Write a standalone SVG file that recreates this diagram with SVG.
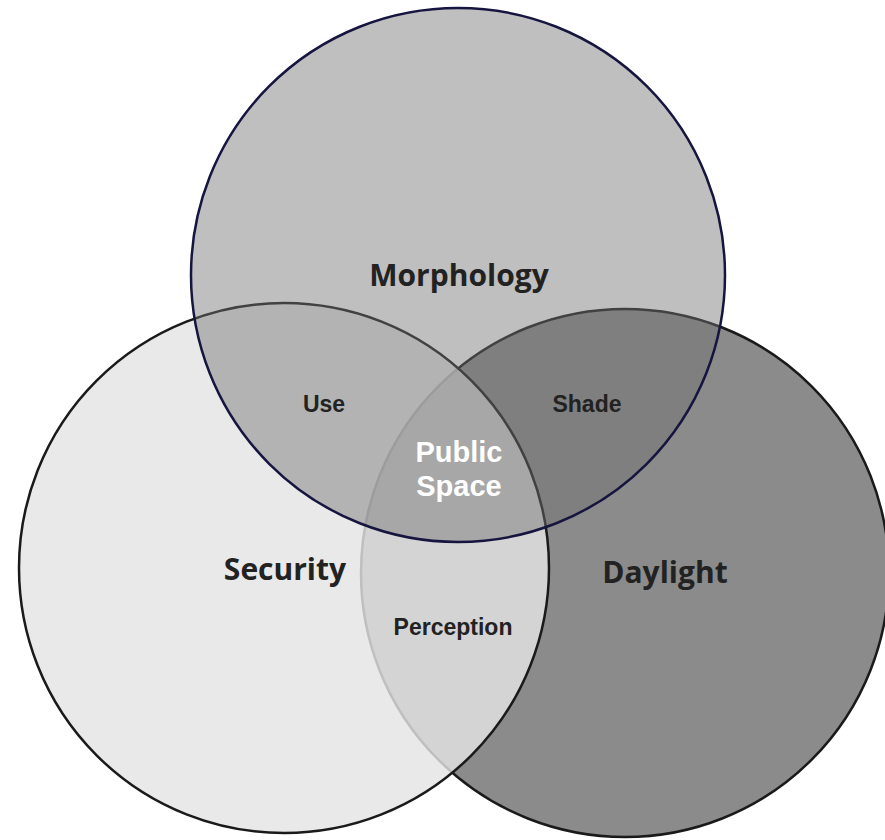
<svg xmlns="http://www.w3.org/2000/svg" width="885" height="840" viewBox="0 0 885 840">
  <style>
    .big { font-family: "Open Sans", "DejaVu Sans", sans-serif; font-weight: 700; font-size: 30px; fill: #222222; text-anchor: middle; }
    .small { font-family: "Liberation Sans", Arial, sans-serif; font-weight: 700; font-size: 23px; fill: #222222; text-anchor: middle; }
    .center { font-family: "Liberation Sans", Arial, sans-serif; font-weight: 700; font-size: 29px; fill: #ffffff; text-anchor: middle; }
  </style>
  <rect x="0" y="0" width="885" height="840" fill="#ffffff"/>
  <g id="daylight">
    <circle cx="625" cy="573" r="264" fill="#8b8b8b" stroke="#1a1a1a" stroke-width="2.5"/>
  </g>
  <g id="security">
    <circle cx="284" cy="568" r="265" fill="#e4e4e4" fill-opacity="0.82" stroke="#1a1a1a" stroke-width="2.5"/>
  </g>
  <g id="morphology">
    <circle cx="458" cy="275" r="267" fill="#707070" fill-opacity="0.45" stroke="#15153f" stroke-width="2.5"/>
  </g>
  <g id="labels">
    <text class="big" x="459" y="286">Morphology</text>
    <text class="big" x="285" y="580">Security</text>
    <text class="big" x="665" y="583">Daylight</text>
    <text class="small" x="324" y="412">Use</text>
    <text class="small" x="587" y="412">Shade</text>
    <text class="small" x="453" y="635">Perception</text>
    <text class="center" x="459" y="462">Public</text>
    <text class="center" x="459" y="496">Space</text>
  </g>
</svg>
